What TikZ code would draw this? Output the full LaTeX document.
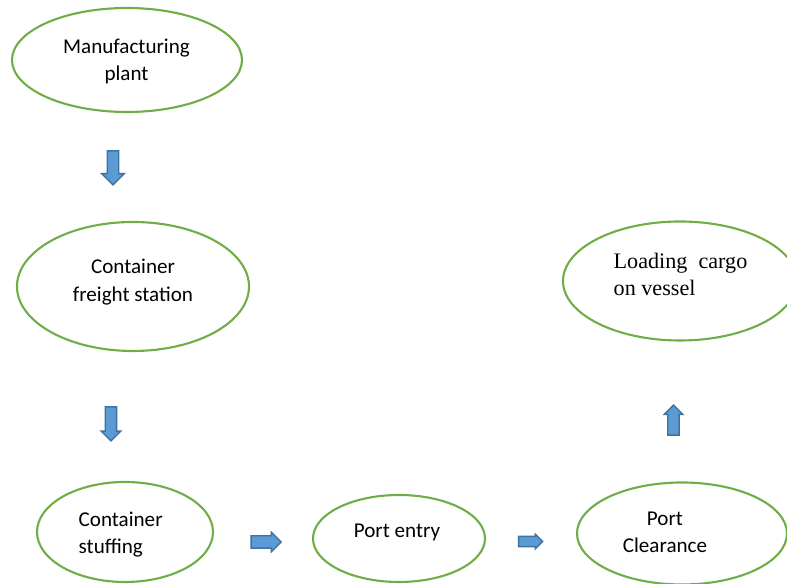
\documentclass[tikz,border=0pt]{standalone}
\usepackage{fontspec}
\setmainfont{Carlito}
\newfontfamily\timesface{Liberation Serif}
\usetikzlibrary{shapes.geometric,shapes.arrows}
\definecolor{stagegreen}{RGB}{112,173,71}
\definecolor{arrowfill}{RGB}{91,155,213}
\definecolor{arrowedge}{RGB}{65,113,156}

\begin{document}
\begin{tikzpicture}[every node/.style={font=\fontsize{6}{7.7}\selectfont},
		stage/.style={ellipse, draw=stagegreen, line width=0.6pt, inner sep=0pt},
		stagetext/.style={inner sep=0pt, align=center},
		blockarrow/.style n args={2}{single arrow, draw=arrowedge, fill=arrowfill, line width=0.4pt, minimum width=0pt, inner xsep=0pt, inner ysep=#1, single arrow head extend=#2, single arrow head indent=0pt}]
				\useasboundingbox (0,0) rectangle (7.87,-5.84);
				\node[stage, minimum width=2.30cm, minimum height=1.04cm] (plant) at (1.27,-0.60) {};
				\node[stage, minimum width=2.32cm, minimum height=1.29cm] (freight) at (1.33,-2.865) {};
				\node[stage, minimum width=1.76cm, minimum height=1.00cm] (stuffing) at (1.25,-5.32) {};
				\node[stage, minimum width=1.72cm, minimum height=0.87cm] (entry) at (3.99,-5.385) {};
				\node[stage, minimum width=2.10cm, minimum height=1.02cm] (clearance) at (6.82,-5.335) {};
				\node[stage, minimum width=2.34cm, minimum height=1.19cm] (loading) at (6.80,-2.81) {};
				\node[stagetext] (plantText) at (1.265,-0.615) {Manufacturing\\plant};
				\node[stagetext, font=\fontsize{6}{8}\selectfont] (freightText) at (1.33,-2.82) {Container\\freight station};
				\node[stagetext, align=left, anchor=west] (stuffingText) at (0.78,-5.35) {Container\\stuffing};
				\node[stagetext] (entryText) at (3.97,-5.32) {Port entry};
				\node[stagetext] (clearanceText) at (6.65,-5.32) {Port\\Clearance};
				\node[stagetext, align=left, anchor=west, font=\timesface\fontsize{6.3}{7.7}\selectfont] (loadingText) at (6.13,-2.745) {Loading\ \ cargo\\on vessel};
				\node[blockarrow={0.05cm}{0.055cm}, rotate=-90, minimum height=0.34cm] (arrowA) at (1.13,-1.65) {};
				\node[blockarrow={0.05cm}{0.04cm}, rotate=-90, minimum height=0.34cm] (arrowB) at (1.11,-4.21) {};
				\node[blockarrow={0.055cm}{0.035cm}, minimum height=0.30cm] (arrowC) at (2.63,-5.42) {};
				\node[blockarrow={0.045cm}{0.02cm}, minimum height=0.24cm] (arrowD) at (5.28,-5.415) {};
				\node[blockarrow={0.05cm}{0.035cm}, rotate=90, minimum height=0.30cm] (arrowE) at (6.735,-4.23) {};
			\end{tikzpicture}
\end{document}
